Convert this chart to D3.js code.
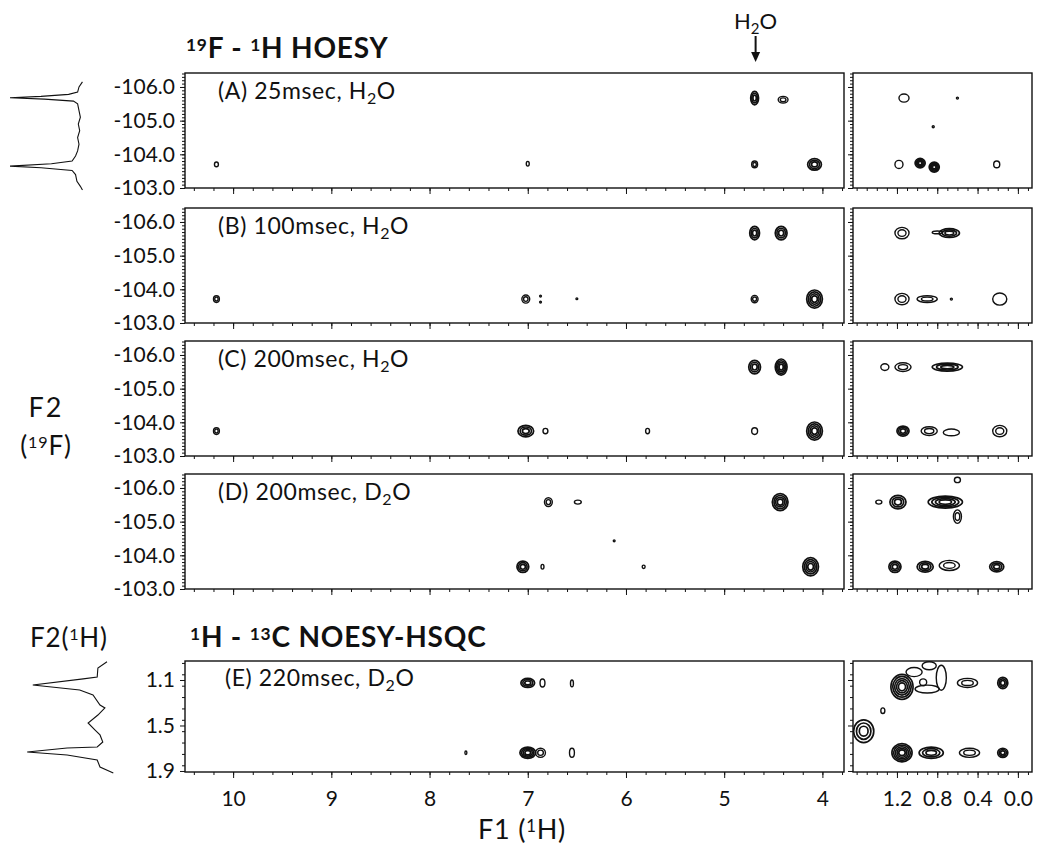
<!DOCTYPE html>
<html>
<head>
<meta charset="utf-8">
<script src="https://cdn.jsdelivr.net/npm/d3@7"></script>
<style>
  body { margin: 0; background: #fff; }
  text { font-family: Lato, "Noto Sans", sans-serif; fill: #111; }
</style>
</head>
<body>
<div id="chart"></div>
<script>
/*
*    19F-1H HOESY / 1H-13C NOESY-HSQC panels
*/

// Panel captions
const panelIds = ["A", "B", "C", "D", "E"];
const mixTimes = ["25msec", "100msec", "200msec", "200msec", "220msec"];
const solvents = ["H", "H", "H", "D", "D"];   // followed by subscript 2 + O

// Tick labels
const f2Ticks = [-106, -105, -104, -103];
const f1Ticks = [10, 9, 8, 7, 6, 5, 4];
const zoomTicks = [1.2, 0.8, 0.4, 0.0];
const hTicks = [1.1, 1.5, 1.9];

// Cross peaks: [F1 ppm, F2 ppm, half width F1, half width F2, contour levels]
const peaksA = [
	[10.17, -103.70, 0.020, 0.07, 1],
	[7.00, -103.72, 0.015, 0.07, 1],
	[4.69, -105.67, 0.040, 0.20, 3],
	[4.40, -105.62, 0.050, 0.10, 2],
	[4.69, -103.70, 0.030, 0.10, 2],
	[4.08, -103.70, 0.070, 0.17, 3],
	[1.13, -105.67, 0.050, 0.12, 1],
	[0.60, -105.67, 0.010, 0.03, 1],
	[0.84, -104.82, 0.010, 0.03, 1],
	[1.18, -103.70, 0.040, 0.12, 1],
	[0.97, -103.74, 0.050, 0.14, 4],
	[0.83, -103.62, 0.050, 0.15, 4],
	[0.21, -103.70, 0.030, 0.10, 1]
];
const peaksB = [
	[10.17, -103.71, 0.030, 0.10, 2],
	[7.02, -103.71, 0.040, 0.12, 2],
	[6.87, -103.62, 0.005, 0.02, 1],
	[6.87, -103.80, 0.005, 0.02, 1],
	[6.50, -103.72, 0.005, 0.02, 1],
	[4.69, -105.67, 0.050, 0.20, 3],
	[4.42, -105.67, 0.060, 0.20, 3],
	[4.69, -103.71, 0.035, 0.11, 2],
	[4.08, -103.71, 0.080, 0.27, 4],
	[1.15, -105.67, 0.070, 0.17, 2],
	[0.68, -105.67, 0.100, 0.13, 3],
	[0.80, -105.69, 0.050, 0.04, 1],
	[1.15, -103.71, 0.070, 0.17, 2],
	[0.90, -103.71, 0.100, 0.10, 2],
	[0.66, -103.71, 0.010, 0.03, 1],
	[0.18, -103.71, 0.070, 0.18, 1]
];
const peaksC = [
	[10.17, -103.74, 0.030, 0.10, 2],
	[7.02, -103.74, 0.080, 0.17, 3],
	[6.82, -103.74, 0.025, 0.08, 1],
	[5.78, -103.74, 0.020, 0.08, 1],
	[4.69, -105.64, 0.060, 0.20, 3],
	[4.42, -105.64, 0.060, 0.24, 4],
	[4.69, -103.74, 0.030, 0.10, 1],
	[4.08, -103.74, 0.080, 0.27, 4],
	[1.32, -105.64, 0.040, 0.10, 1],
	[1.14, -105.64, 0.080, 0.13, 2],
	[0.70, -105.64, 0.150, 0.12, 3],
	[1.14, -103.74, 0.060, 0.15, 3],
	[0.88, -103.74, 0.080, 0.13, 2],
	[0.66, -103.70, 0.080, 0.10, 1],
	[0.18, -103.74, 0.070, 0.17, 2]
];
const peaksD = [
	[6.79, -105.58, 0.040, 0.13, 2],
	[6.49, -105.58, 0.035, 0.06, 1],
	[6.12, -104.43, 0.005, 0.02, 1],
	[7.05, -103.66, 0.060, 0.17, 3],
	[6.85, -103.66, 0.015, 0.07, 1],
	[5.82, -103.66, 0.015, 0.05, 1],
	[4.43, -105.58, 0.080, 0.25, 4],
	[4.12, -103.66, 0.080, 0.27, 4],
	[0.60, -106.24, 0.030, 0.08, 1],
	[1.38, -105.58, 0.030, 0.06, 1],
	[1.19, -105.58, 0.080, 0.20, 3],
	[0.72, -105.58, 0.170, 0.18, 4],
	[0.60, -105.15, 0.040, 0.20, 2],
	[1.22, -103.66, 0.060, 0.17, 3],
	[0.92, -103.66, 0.080, 0.16, 3],
	[0.68, -103.70, 0.100, 0.15, 2],
	[0.21, -103.66, 0.070, 0.15, 3]
];
const peaksE = [
	[7.00, 1.126, 0.070, 0.040, 3],
	[6.85, 1.126, 0.025, 0.035, 1],
	[6.55, 1.130, 0.015, 0.030, 1],
	[7.63, 1.740, 0.010, 0.015, 1],
	[7.00, 1.740, 0.080, 0.050, 4],
	[6.87, 1.740, 0.050, 0.040, 2],
	[6.55, 1.740, 0.025, 0.040, 1],
	[1.15, 1.160, 0.110, 0.110, 5],
	[0.94, 1.120, 0.035, 0.030, 1],
	[1.03, 1.030, 0.080, 0.040, 1],
	[0.88, 0.975, 0.070, 0.035, 1],
	[0.76, 1.080, 0.050, 0.110, 1],
	[0.90, 1.180, 0.120, 0.035, 1],
	[0.50, 1.126, 0.100, 0.040, 2],
	[0.15, 1.126, 0.050, 0.050, 3],
	[1.53, 1.550, 0.100, 0.100, 3],
	[1.34, 1.370, 0.020, 0.025, 1],
	[1.15, 1.740, 0.100, 0.080, 5],
	[0.86, 1.740, 0.120, 0.050, 3],
	[0.48, 1.740, 0.100, 0.040, 2],
	[0.15, 1.740, 0.050, 0.040, 3]
];
const hoesyPeaks = [peaksA, peaksB, peaksC, peaksD];

// 1D projections: [ppm, relative intensity]
const traceF = [
	[-106.15, -0.05], [-106.0, 0.0], [-105.85, 0.02], [-105.78, 0.15], [-105.72, 0.55],
	[-105.68, 1.0], [-105.64, 0.5], [-105.58, 0.08], [-105.5, 0.02], [-105.3, 0.0],
	[-105.1, -0.02], [-104.9, 0.01], [-104.7, -0.01], [-104.5, 0.02], [-104.3, 0.0],
	[-104.1, 0.02], [-103.95, 0.05], [-103.8, 0.1], [-103.72, 0.4], [-103.65, 1.0],
	[-103.6, 0.55], [-103.52, 0.1], [-103.4, 0.05], [-103.2, 0.03], [-103.05, -0.02],
	[-102.94, -0.05]
];
const traceH = [
	[0.94, -0.10], [0.995, 0.03], [1.074, 0.04], [1.09, 0.24], [1.144, 0.96],
	[1.188, 0.29], [1.232, 0.10], [1.32, 0.0], [1.346, -0.07], [1.408, 0.03],
	[1.478, 0.17], [1.54, 0.07], [1.583, 0.0], [1.645, -0.04], [1.689, 0.04],
	[1.698, 0.47], [1.733, 1.04], [1.759, 0.47], [1.803, 0.04], [1.865, 0.0],
	[1.918, -0.19]
];

const width = 1042;
const height = 847;

const svg = d3.select("#chart")
	.append("svg")
	.attr("width", width)
	.attr("height", height);

// Scales
const xMain = d3.scaleLinear().domain([10.49, 3.78]).range([185, 844]);
const xZoom = d3.scaleLinear().domain([1.636, -0.14]).range([853, 1032]);
const yF = d3.scaleLinear().domain([-106.415, -103.0]).range([0, 115]);
const yH = d3.scaleLinear().domain([0.933, 1.909]).range([0, 111]);

const hoesyTops = [73, 208, 341, 474];
const noesyTop = 661;

const fmt1 = d => d.toFixed(1);

function caption(g, x, y, i) {
	const t = g.append("text")
		.attr("x", x)
		.attr("y", y)
		.attr("font-size", 23)
		.attr("letter-spacing", 0.6);
	t.append("tspan").text(`(${panelIds[i]}) ${mixTimes[i]}, ${solvents[i]}`);
	t.append("tspan").attr("font-size", 16).attr("dy", 5).text("2");
	t.append("tspan").attr("dy", -5).text("O");
}

function drawPeaks(g, x, y, peaks, clipId) {
	const [x0, x1] = x.range();
	const h = y.range()[1];
	g.append("clipPath").attr("id", clipId)
		.append("rect")
		.attr("x", x0).attr("y", 0)
		.attr("width", x1 - x0).attr("height", h);

	const pg = g.append("g").attr("clip-path", `url(#${clipId})`);
	const lo = Math.min(...x.domain()), hi = Math.max(...x.domain());

	peaks.filter(p => p[0] >= lo - 0.2 && p[0] <= hi + 0.2).forEach(p => {
		const [f1, f2, w, hh, n] = p;
		const cx = x(f1), cy = y(f2);
		const rx = Math.abs(x(f1 + w) - cx);
		const ry = Math.abs(y(f2 + hh) - cy);
		for (let i = 0; i < n; i++) {
			const k = 1 - (i / n) * 0.85;
			pg.append("ellipse")
				.attr("cx", cx)
				.attr("cy", cy)
				.attr("rx", Math.max(rx * k, 0.9))
				.attr("ry", Math.max(ry * k, 0.9))
				.attr("fill", "none")
				.attr("stroke", "#111")
				.attr("stroke-width", n > 2 ? 1.7 : 1.4);
		}
	});
}

function frame(g, x, h) {
	const [x0, x1] = x.range();
	g.append("rect")
		.attr("x", x0).attr("y", 0)
		.attr("width", x1 - x0).attr("height", h)
		.attr("fill", "none")
		.attr("stroke", "#111")
		.attr("stroke-width", 1.4);
}

function axisTicks(g, axis, transform) {
	const a = g.append("g").attr("transform", transform).call(axis);
	a.select(".domain").remove();
	a.selectAll("line").attr("stroke", "#111");
	a.selectAll("text").attr("font-size", 21).attr("fill", "#111")
		.style("font-family", "Lato, sans-serif");
	return a;
}

function leftAxes(g, x, y, majors, minors, labels) {
	const xl = x.range()[0];
	axisTicks(g, d3.axisLeft(y).tickValues(minors).tickSize(3).tickFormat(""), `translate(${xl},0)`);
	axisTicks(g, d3.axisLeft(y).tickValues(majors).tickSize(5)
		.tickPadding(5).tickFormat(labels ? fmt1 : ""), `translate(${xl},0)`);
}

function bottomAxes(g, x, h, majors, minors, labels, fmt) {
	axisTicks(g, d3.axisBottom(x).tickValues(minors).tickSize(3).tickFormat(""), `translate(0,${h})`);
	return axisTicks(g, d3.axisBottom(x).tickValues(majors).tickSize(6)
		.tickPadding(13).tickFormat(labels ? fmt : ""), `translate(0,${h})`);
}

// 19F-1H HOESY panels
const f2Minor = d3.range(-106.4, -102.99, 0.1);
const f1Minor = d3.range(3.8, 10.5, 0.2);
const zMinor = d3.range(-0.1, 1.65, 0.1);

hoesyTops.forEach((top, i) => {
	const g = svg.append("g").attr("transform", `translate(0,${top})`);
	const h = yF.range()[1];

	drawPeaks(g, xMain, yF, hoesyPeaks[i], `cm${i}`);
	drawPeaks(g, xZoom, yF, hoesyPeaks[i], `cz${i}`);
	frame(g, xMain, h);
	frame(g, xZoom, h);

	leftAxes(g, xMain, yF, f2Ticks, f2Minor, true);
	leftAxes(g, xZoom, yF, f2Ticks, f2Minor, false);
	bottomAxes(g, xMain, h, f1Ticks, f1Minor, false);
	bottomAxes(g, xZoom, h, zoomTicks, zMinor, false);

	caption(g, 218, 26, i);
});

// 1H-13C NOESY-HSQC panel
{
	const g = svg.append("g").attr("transform", `translate(0,${noesyTop})`);
	const h = yH.range()[1];
	const hMinor = d3.range(0.95, 1.92, 0.1);

	drawPeaks(g, xMain, yH, peaksE, "cmE");
	drawPeaks(g, xZoom, yH, peaksE, "czE");
	frame(g, xMain, h);
	frame(g, xZoom, h);

	leftAxes(g, xMain, yH, hTicks, hMinor, true);
	leftAxes(g, xZoom, yH, hTicks, hMinor, false);
	bottomAxes(g, xMain, h, f1Ticks, f1Minor, true, d => d);
	bottomAxes(g, xZoom, h, zoomTicks, zMinor, true, fmt1);

	caption(g, 225, 25, 4);
}

// 1D projections on the left
const intF = d3.scaleLinear().domain([0, 1]).range([79, 10]);
const intH = d3.scaleLinear().domain([0, 1]).range([100, 30]);

svg.append("path")
	.datum(traceF)
	.attr("transform", `translate(0,${hoesyTops[0]})`)
	.attr("fill", "none")
	.attr("stroke", "#111")
	.attr("stroke-width", 1.1)
	.attr("d", d3.line().x(d => intF(d[1])).y(d => yF(d[0])));

svg.append("path")
	.datum(traceH)
	.attr("transform", `translate(0,${noesyTop})`)
	.attr("fill", "none")
	.attr("stroke", "#111")
	.attr("stroke-width", 1.1)
	.attr("d", d3.line().x(d => intH(d[1])).y(d => yH(d[0])));

// Titles
function supText(x, y, size, parts, weight) {
	const t = svg.append("text").attr("x", x).attr("y", y)
		.attr("font-size", size).attr("font-weight", weight || "bold")
		.attr("letter-spacing", 0.8);
	parts.forEach(([s, sup]) => {
		t.append("tspan")
			.attr("font-size", sup ? size * 0.62 : size)
			.attr("baseline-shift", sup ? "42%" : null)
			.text(s);
	});
	return t;
}

supText(186, 58, 28, [["19", true], ["F - ", false], ["1", true], ["H HOESY", false]]);
supText(190, 647, 28, [["1", true], ["H - ", false], ["13", true], ["C NOESY-HSQC", false]]);
supText(30, 647, 26, [["F2(", false], ["1", true], ["H)", false]], "normal");

// F2 (19F) axis label
svg.append("text").attr("x", 46).attr("y", 417).attr("font-size", 27)
	.attr("letter-spacing", 2).attr("text-anchor", "middle").text("F2");
supText(46, 455, 26, [["(", false], ["19", true], ["F)", false]], "normal")
	.attr("text-anchor", "middle");

// F1 axis label
supText(522, 839, 27, [["F1 (", false], ["1", true], ["H)", false]], "normal")
	.attr("text-anchor", "middle");

// Water marker
const hx = xMain(4.68);
{
	const t = svg.append("text").attr("x", hx).attr("y", 29)
		.attr("font-size", 22).attr("text-anchor", "middle");
	t.append("tspan").text("H");
	t.append("tspan").attr("font-size", 15).attr("dy", 5).text("2");
	t.append("tspan").attr("dy", -5).text("O");
}
svg.append("line")
	.attr("x1", hx).attr("x2", hx).attr("y1", 36).attr("y2", 56)
	.attr("stroke", "#111").attr("stroke-width", 2);
svg.append("path")
	.attr("d", `M${hx - 4.5},52 L${hx + 4.5},52 L${hx},62 Z`)
	.attr("fill", "#111");
</script>
</body>
</html>
